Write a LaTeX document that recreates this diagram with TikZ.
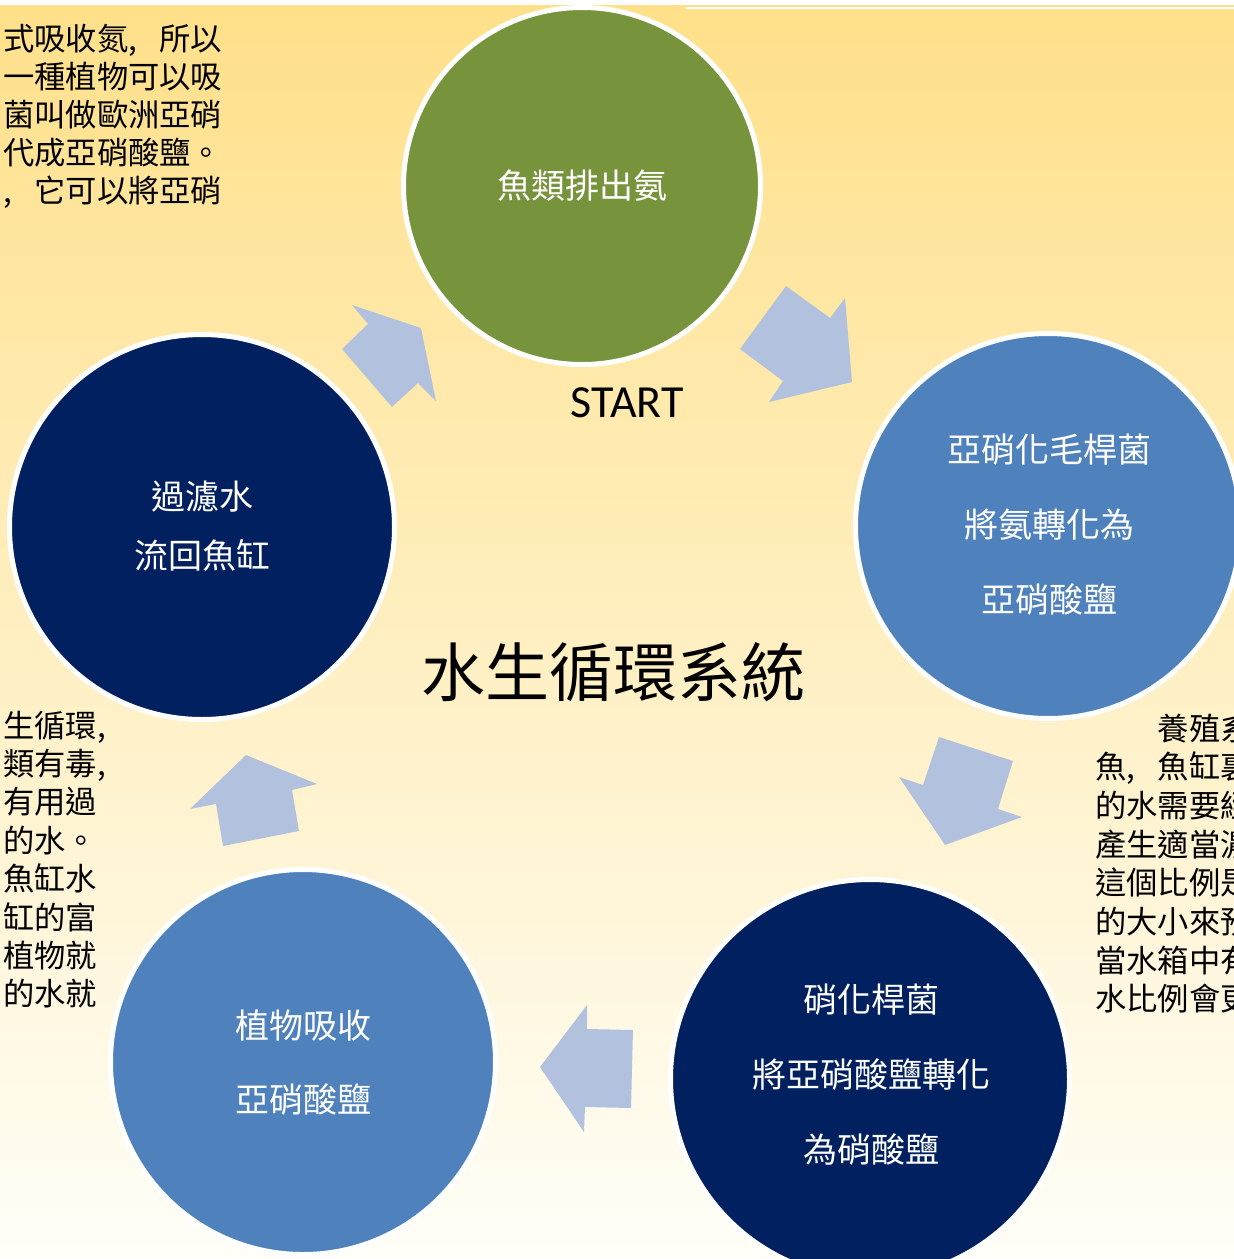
\documentclass[tikz,border=0pt]{standalone}
\usepackage{fontspec}
\setmainfont{Noto Sans CJK TC}
\newfontfamily\startfont{Carlito}
\newcommand\hwc{\makebox[0.5em][l]{,}\hspace{0.5em}}
\definecolor{bgtop}{RGB}{255,224,138}
\definecolor{bgbot}{RGB}{255,254,248}
\definecolor{cgreen}{RGB}{119,147,60}
\definecolor{cblue}{RGB}{79,129,189}
\definecolor{cnavy}{RGB}{0,32,96}
\definecolor{carrow}{RGB}{178,194,222}
\tikzset{
  bubble/.style={circle, draw=white, line width=5pt, inner sep=0pt},
  ctext/.style={text=white, font=\fontsize{34}{40}\selectfont, inner sep=0pt},
  sidetext/.style={text=black, font=\fontsize{31.3}{38}\selectfont, inner sep=0pt, anchor=base west},
  blockarrow/.style={fill=carrow, draw=none}
}
\begin{document}
\begin{tikzpicture}[x=1pt,y=-1pt]
\useasboundingbox (0,0) rectangle (1234,1259);
\clip (0,0) rectangle (1234,1259);
\fill[white] (0,0) rectangle (1234,1259);
\shade[top color=bgtop, bottom color=bgbot] (0,5) rectangle (1234,1259);
\draw[white, line width=2.5pt] (686,8) -- (1234,8);

% side texts
\foreach [count=\i] \t in {{式吸收氮\hwc 所以},{一種植物可以吸},{菌叫做歐洲亞硝},{代成亞硝酸鹽。},{\hwc 它可以將亞硝}}
  \node[sidetext] (tl\i) at (3, 50+38*\i-38) {\t};
\foreach [count=\i] \t in {{生循環,},{類有毒,},{有用過},{的水。},{魚缸水},{缸的富},{植物就},{的水就}}
  \node[sidetext] (ml\i) at (3, 737+38.4*\i-38.4) {\t};
\foreach [count=\i] \t in {{　　養殖系},{魚\hwc 魚缸裏},{的水需要經},{產生適當濃},{這個比例是},{的大小來預},{當水箱中有},{水比例會更}}
  \node[sidetext] (rl\i) at (1095, 740+38.7*\i-38.7) {\t};

% circles
\node[bubble, fill=cgreen, minimum size=357pt] (fish) at (582,186) {};
\node[bubble, fill=cblue, minimum size=385pt] (nitrite) at (1048,526) {};
\node[bubble, fill=cnavy, minimum size=385pt] (filter) at (202,527) {};
\node[bubble, fill=cblue, minimum size=385pt] (plant) at (303,1062) {};
\node[bubble, fill=cnavy, minimum size=399pt] (nitrate) at (870,1079) {};

% circle texts
\node[ctext] (t1) at (582,186) {魚類排出氨};
\node[ctext] (t2a) at (1049,450) {亞硝化毛桿菌};
\node[ctext] (t2b) at (1049,525) {將氨轉化為};
\node[ctext] (t2c) at (1049,600) {亞硝酸鹽};
\node[ctext] (t3a) at (871,1000) {硝化桿菌};
\node[ctext] (t3b) at (871,1075) {將亞硝酸鹽轉化};
\node[ctext] (t3c) at (871,1150) {為硝酸鹽};
\node[ctext] (t4a) at (303,1025) {植物吸收};
\node[ctext] (t4b) at (303,1100) {亞硝酸鹽};
\node[ctext] (t5a) at (202,497) {過濾水};
\node[ctext] (t5b) at (202,555) {流回魚缸};

% labels
\node[inner sep=0pt, font=\startfont\fontsize{46}{50}\selectfont] (start) at (627,403) {START};
\node[inner sep=0pt, font=\fontsize{64}{70}\selectfont] (title) at (613,672) {水生循環系統};

% block arrows
\fill[blockarrow] (421,328) -- (436,401) -- (418,383) -- (392,407) -- (342,349) -- (368,324) -- (352,305) -- cycle;
\fill[blockarrow] (786,286) -- (830,318) -- (845,298) -- (852,382) -- (769,402) -- (783,381) -- (740,349) -- cycle;
\fill[blockarrow] (939,737) -- (1013,761) -- (998,809) -- (1022,817) -- (945,845) -- (899,777) -- (923,785) -- cycle;
\fill[blockarrow] (587,1005) -- (587,1029) -- (633,1030) -- (631,1108) -- (585,1107) -- (584,1132) -- (540,1067) -- cycle;
\fill[blockarrow] (246,755) -- (317,784) -- (292,790) -- (299,831) -- (223,846) -- (216,804) -- (190,809) -- cycle;
\end{tikzpicture}
\end{document}
